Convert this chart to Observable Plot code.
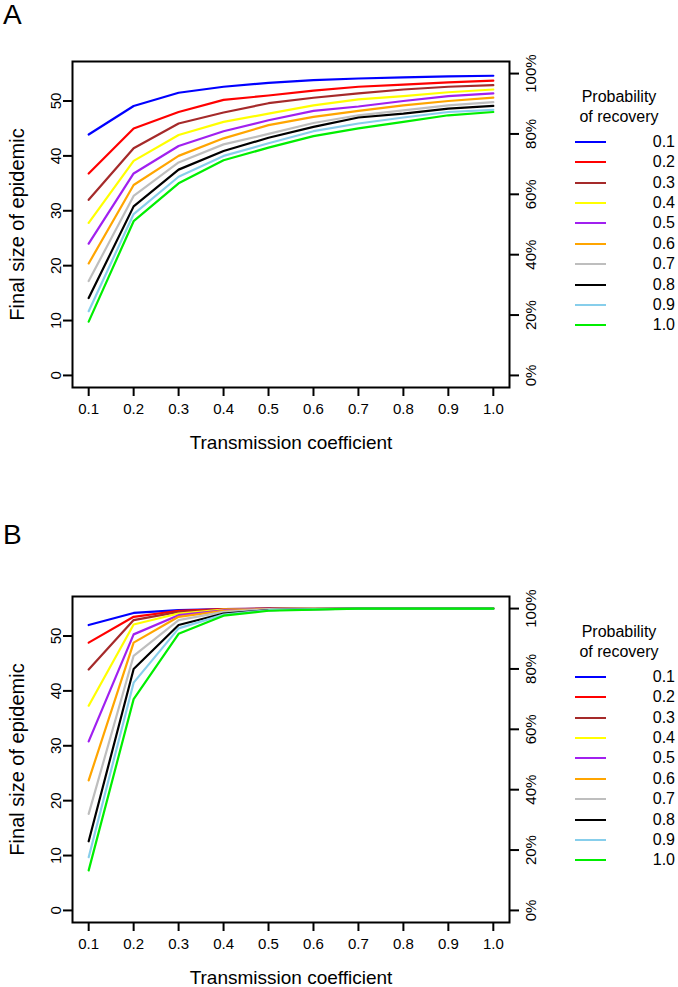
<!DOCTYPE html>
<html>
<head>
<meta charset="utf-8">
<script src="https://cdn.jsdelivr.net/npm/d3@7"></script>
<script src="https://cdn.jsdelivr.net/npm/@observablehq/plot@0.6"></script>
<style>
  body { margin: 0; background: #fff; font-family: "Liberation Sans", Arial, sans-serif; }
  #root { position: relative; width: 678px; height: 987px; overflow: hidden; background: #fff; }
  .panel { position: absolute; left: 0; width: 678px; }
  .panel svg { max-width: none !important; }
  .letter { position: absolute; left: 3px; font-size: 28px; line-height: 1; color: #000; }
  .legtitle { position: absolute; left: 566px; width: 106px; text-align: center; font-size: 16px; line-height: 20px; color: #000; }
  .legrow { position: absolute; left: 560px; width: 115px; height: 20px; }
  .legline { position: absolute; left: 15px; width: 31px; height: 2px; top: 9px; }
  .leglab { position: absolute; right: 0; top: 0; font-size: 16px; line-height: 20px; color: #000; }
</style>
</head>
<body>
<div id="root"></div>
<script>
// ---- categories / ticks ----
const transmission = [0.1, 0.2, 0.3, 0.4, 0.5, 0.6, 0.7, 0.8, 0.9, 1.0];
const recoveryProbs = ["0.1", "0.2", "0.3", "0.4", "0.5", "0.6", "0.7", "0.8", "0.9", "1.0"];
const lineColors = ["#0000FF", "#FF0000", "#A52A2A", "#FFFF00", "#A020F0", "#FFA500", "#BEBEBE", "#000000", "#87CEEB", "#00EE00"];
const populationSize = 55;
const sizeTicks = [0, 10, 20, 30, 40, 50];
const percentTicks = [0, 20, 40, 60, 80, 100];
const yTitle = "Final size of epidemic";
const xTitle = "Transmission coefficient";

// ---- Panel A: final size by transmission coefficient, one array per recovery probability ----
const A_r01 = [43.9, 49.1, 51.5, 52.6, 53.3, 53.8, 54.1, 54.3, 54.5, 54.6];
const A_r02 = [36.8, 45.0, 48.0, 50.2, 51.0, 51.9, 52.6, 53.0, 53.4, 53.7];
const A_r03 = [32.0, 41.4, 45.9, 47.9, 49.6, 50.6, 51.4, 52.1, 52.6, 52.9];
const A_r04 = [27.8, 39.1, 43.8, 46.2, 47.7, 49.2, 50.3, 50.9, 51.6, 52.1];
const A_r05 = [24.0, 36.8, 41.8, 44.5, 46.5, 48.2, 49.0, 50.0, 50.9, 51.4];
const A_r06 = [20.4, 34.7, 40.0, 43.2, 45.6, 47.1, 48.2, 49.2, 50.0, 50.6];
const A_r07 = [17.2, 32.7, 38.8, 42.1, 44.0, 46.0, 47.4, 48.3, 49.2, 49.8];
const A_r08 = [14.1, 30.8, 37.5, 40.9, 43.3, 45.3, 47.0, 47.7, 48.6, 49.1];
const A_r09 = [11.7, 29.4, 36.2, 40.0, 42.3, 44.5, 45.9, 47.0, 48.0, 48.4];
const A_r10 = [9.8, 28.1, 35.0, 39.2, 41.5, 43.6, 45.0, 46.2, 47.4, 48.0];

// ---- Panel B ----
const B_r01 = [52.0, 54.2, 54.7, 54.9, 55.0, 55.0, 55.0, 55.0, 55.0, 55.0];
const B_r02 = [48.8, 53.5, 54.6, 54.9, 55.0, 55.0, 55.0, 55.0, 55.0, 55.0];
const B_r03 = [43.9, 52.9, 54.4, 54.8, 55.0, 55.0, 55.0, 55.0, 55.0, 55.0];
const B_r04 = [37.3, 52.1, 54.1, 54.8, 54.9, 55.0, 55.0, 55.0, 55.0, 55.0];
const B_r05 = [30.8, 50.3, 53.8, 54.7, 54.9, 55.0, 55.0, 55.0, 55.0, 55.0];
const B_r06 = [23.7, 48.8, 53.5, 54.6, 54.9, 55.0, 55.0, 55.0, 55.0, 55.0];
const B_r07 = [17.6, 46.4, 52.9, 54.4, 54.9, 55.0, 55.0, 55.0, 55.0, 55.0];
const B_r08 = [12.6, 44.0, 52.0, 54.1, 54.7, 54.9, 55.0, 55.0, 55.0, 55.0];
const B_r09 = [9.7, 41.5, 51.4, 53.9, 54.7, 54.9, 55.0, 55.0, 55.0, 55.0];
const B_r10 = [7.3, 38.5, 50.4, 53.7, 54.6, 54.8, 55.0, 55.0, 55.0, 55.0];

const seriesA = [A_r01, A_r02, A_r03, A_r04, A_r05, A_r06, A_r07, A_r08, A_r09, A_r10];
const seriesB = [B_r01, B_r02, B_r03, B_r04, B_r05, B_r06, B_r07, B_r08, B_r09, B_r10];

function tidy(series) {
  return series.flatMap((vals, i) => vals.map((v, j) => ({beta: transmission[j], size: v, rec: recoveryProbs[i]})));
}

const FONT = '"Liberation Sans", Arial, Helvetica, sans-serif';

function makePanel(series, height) {
  const data = tidy(series);
  const frameH = 326;
  const svg = Plot.plot({
    width: 678,
    height,
    marginLeft: 72,
    marginRight: 169,
    marginTop: 61,
    marginBottom: height - 61 - frameH,
    x: {domain: [0.064, 1.036]},
    y: {domain: [-2.2, 57.2]},
    color: {domain: recoveryProbs, range: lineColors},
    style: {fontFamily: FONT, fontSize: "15px", color: "#000", background: "#fff"},
    marks: [
      Plot.line(data, {x: "beta", y: "size", z: "rec", stroke: "rec", strokeWidth: 2.2}),
      Plot.frame({stroke: "#000", strokeWidth: 2}),
      Plot.axisX({ticks: transmission, tickFormat: d3.format(".1f"), tickSize: 9, tickPadding: 7, strokeWidth: 2, label: null, fontSize: 15}),
      Plot.axisY({ticks: sizeTicks, tickFormat: d => String(d), tickSize: 9, tickRotate: -90, tickPadding: 3, strokeWidth: 2, label: null, fontSize: 15}),
      Plot.axisY({anchor: "right", ticks: percentTicks.map(p => p / 100 * populationSize),
        tickFormat: d => `${Math.round(d / populationSize * 100)}%`, tickSize: 9, tickRotate: -90, lineAnchor: "top",
        tickPadding: 7, strokeWidth: 2, label: null, fontSize: 15}),
      Plot.text([yTitle], {text: d => d, frameAnchor: "left", dx: -55, rotate: -90, fontSize: 20, textAnchor: "middle", lineAnchor: "middle"}),
      Plot.text([xTitle], {text: d => d, frameAnchor: "bottom", dy: 55, fontSize: 19, textAnchor: "middle", lineAnchor: "middle"})
    ]
  });
  svg.querySelectorAll("text").forEach(t => {
    const s = t.textContent;
    if (s === yTitle) t.style.setProperty("font-size", "20px", "important");
    else if (s === xTitle) t.style.setProperty("font-size", "19px", "important");
    else t.style.setProperty("font-size", "15px", "important");
  });
  return svg;
}

const root = document.getElementById("root");

function addPanel(series, top, height, letter, letterTop) {
  const wrap = document.createElement("div");
  wrap.className = "panel";
  wrap.style.top = top + "px";
  wrap.appendChild(makePanel(series, height));
  root.appendChild(wrap);

  const l = document.createElement("div");
  l.className = "letter";
  l.style.top = letterTop + "px";
  l.textContent = letter;
  root.appendChild(l);

  const titleLines = ["Probability", "of recovery"];
  titleLines.forEach((t, i) => {
    const d = document.createElement("div");
    d.className = "legtitle";
    d.style.top = (top + 86.7 + i * 20) + "px";
    d.textContent = t;
    root.appendChild(d);
  });
  recoveryProbs.forEach((r, i) => {
    const row = document.createElement("div");
    row.className = "legrow";
    row.style.top = (top + 131.7 + i * 20.4) + "px";
    const ln = document.createElement("div");
    ln.className = "legline";
    ln.style.background = lineColors[i];
    const lab = document.createElement("div");
    lab.className = "leglab";
    lab.textContent = r;
    row.appendChild(ln);
    row.appendChild(lab);
    root.appendChild(row);
  });
}

addPanel(seriesA, 0, 480, "A", 1);
addPanel(seriesB, 535, 452, "B", 521);
</script>
</body>
</html>
